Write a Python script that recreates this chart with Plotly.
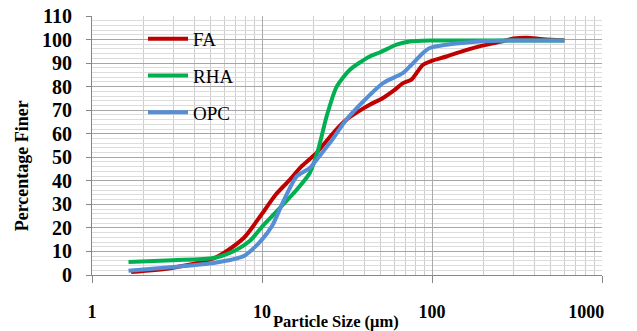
import plotly.graph_objects as go

# ---- data ----
size_fa = [1.7, 3.0, 5.4, 7.8, 10, 12, 14.6, 17, 21, 26, 31.4, 37, 43, 51.5, 60, 67.6, 75.7, 88.5, 100, 121.5, 150, 190, 250, 300, 360, 450, 600]
finer_fa = [1.3, 3.1, 7.6, 15.7, 26, 34, 40.5, 46, 52, 60, 66, 69.5, 72.3, 75.2, 78.5, 81.5, 83, 89.3, 91, 92.8, 95, 97.1, 99, 100.4, 100.8, 100.1, 99.7]

size_rha = [1.64, 3.0, 5.2, 7.0, 8.5, 10, 12.2, 16, 19.1, 21.4, 24, 27.5, 32.9, 43, 49.3, 61.8, 73.9, 100, 200, 600]
finer_rha = [5.5, 6.3, 7.2, 10.5, 14.5, 20.5, 27, 36.2, 43.3, 53.2, 67.4, 80, 87.2, 92.8, 94.5, 97.8, 99.2, 99.6, 99.6, 99.6]

size_opc = [1.64, 3.0, 5.2, 7.8, 8.5, 10, 11.5, 13.3, 16, 19.1, 21.5, 25.1, 31.4, 39.4, 51.5, 67.6, 75.7, 88.5, 97, 121.5, 190, 300, 600]
finer_opc = [1.8, 3.4, 5.1, 8.0, 10, 15, 21, 31, 41.9, 45.4, 50, 56.1, 66, 73.7, 81.5, 85.8, 89.3, 94.3, 96.4, 97.8, 99.2, 99.6, 99.6]

x_ticks = [1, 10, 100, 1000]
x_tick_text = ["1", "10", "100", "1000" + "\u00a0" * 7]
x_minor = [m * 10 ** d for d in range(3) for m in range(2, 10)]

SERIF = "Liberation Serif"

fig = go.Figure()
series = [
    ("FA", size_fa, finer_fa, "#C00000"),
    ("RHA", size_rha, finer_rha, "#00B050"),
    ("OPC", size_opc, finer_opc, "#558ED5"),
]
for name, xs, ys, col in series:
    fig.add_trace(go.Scatter(
        x=xs, y=ys, mode="lines", name=name, legendgroup=name,
        line=dict(color=col, width=4, shape="spline", smoothing=0.7),
    ))

fig.update_layout(
    width=637, height=331,
    margin=dict(l=92, r=35, t=16, b=56),
    paper_bgcolor="white", plot_bgcolor="white",
    font=dict(family=SERIF, color="black"),
    showlegend=True,
    legend=dict(
        x=0.1, y=0.985, xanchor="left", yanchor="top",
        font=dict(family=SERIF, size=19, color="black"),
        tracegroupgap=9, itemwidth=40, bgcolor="rgba(0,0,0,0)",
    ),
    xaxis=dict(
        type="log", range=[0, 3], automargin=False,
        tickvals=x_ticks, ticktext=x_tick_text, ticklabeloverflow="allow",
        ticks="outside", ticklen=7, tickcolor="#868686",
        showline=True, linecolor="#868686", linewidth=1,
        showgrid=True, gridcolor="#ABABAB", gridwidth=1,
        minor=dict(tickvals=x_minor, showgrid=True, gridcolor="#CDCDCD", gridwidth=1),
        tickfont=dict(family=SERIF, size=18, color="black", weight="bold"),
        ticklabelstandoff=13,
        zeroline=False,
    ),
    yaxis=dict(
        range=[0, 110], dtick=10, tick0=0, automargin=False,
        ticks="outside", ticklen=5, tickcolor="#868686",
        showline=True, linecolor="#868686", linewidth=1,
        showgrid=True, gridcolor="#A6A6A6", gridwidth=1,
        minor=dict(dtick=2, showgrid=True, gridcolor="#DCDCDC", gridwidth=1),
        tickfont=dict(family=SERIF, size=20, color="black", weight="bold"),
        ticklabelstandoff=10,
        zeroline=False,
    ),
    annotations=[
        dict(text="<b>Particle Size (μm)</b>", xref="paper", yref="paper",
             x=0.478, y=-0.18, xanchor="center", yanchor="middle",
             showarrow=False, font=dict(family=SERIF, size=16.5, color="black")),
        dict(text="<b>Percentage Finer</b>", xref="paper", yref="paper",
             x=-0.137, y=0.42, xanchor="center", yanchor="middle", textangle=-90,
             showarrow=False, font=dict(family=SERIF, size=18, color="black")),
    ],
)

fig.write_html("out.html")
